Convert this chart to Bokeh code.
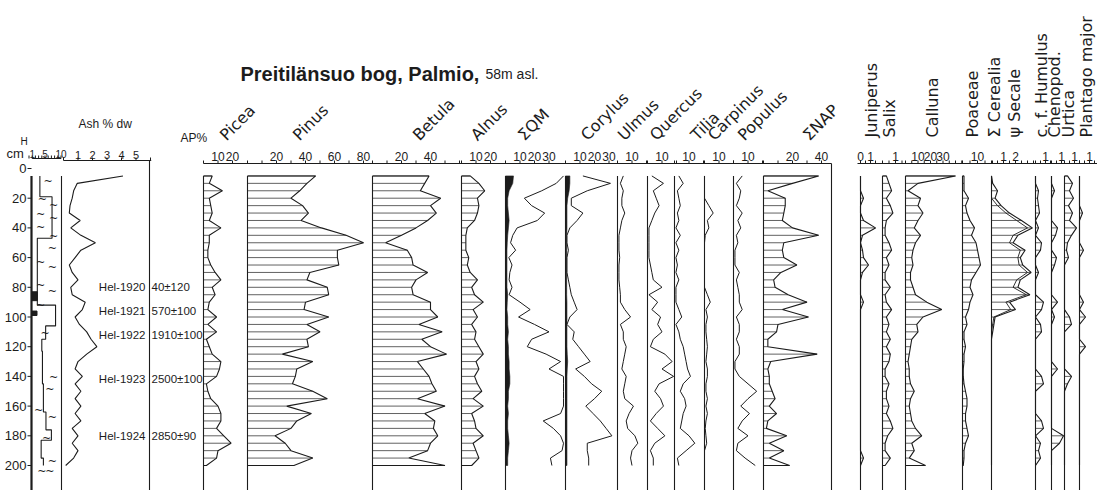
import math
from bokeh.plotting import figure
from bokeh.models import Range1d
from bokeh.core.properties import value
from bokeh.embed import file_html
from bokeh.resources import INLINE

# ---------------------------------------------------------------- data
depth_cm = [5, 10, 15, 20, 25, 30, 35, 40, 45, 50,
            55, 60, 65, 70, 75, 80, 85, 90, 95, 100,
            105, 110, 115, 120, 125, 130, 135, 140, 145, 150,
            155, 160, 165, 170, 175, 180, 185, 190, 195, 200]

ash_pct = [4.1, 0.95, 0.7, 0.6, 0.45, 0.4, 1.15, 0.5, 1.2, 2.2,
           1.2, 0.8, 0.4, 0.6, 1.0, 0.5, 0.6, 1.5, 1.3, 0.8,
           1.1, 1.6, 1.9, 2.3, 1.6, 1.0, 0.8, 1.3, 0.8, 1.2,
           0.8, 1.2, 0.8, 1.2, 0.6, 1.0, 0.6, 1.0, 0.7, 0.15]

picea = [6, 4, 13, 4, 5, 6, 4, 12, 4, 4, 3, 3, 5, 8, 12, 6, 8, 4, 3, 9,
         3, 9, 2, 4, 6, 12, 11, 9, 2, 3, 5, 10, 12, 12, 9, 14, 19, 10, 9, 2]
pinus = [47, 41, 36, 30, 38, 42, 37, 51, 68, 80, 62, 62, 63, 43, 41, 55, 56, 40, 39, 56,
         41, 50, 41, 42, 24, 45, 34, 33, 31, 45, 55, 27, 44, 34, 30, 19, 26, 30, 45, 32]
betula = [39, 36, 33, 47, 40, 44, 38, 30, 20, 9, 24, 27, 28, 38, 30, 27, 28, 40, 40, 45,
          32, 48, 34, 40, 51, 31, 35, 39, 41, 44, 31, 50, 36, 43, 42, 45, 40, 38, 25, 50]
alnus = [6, 12, 16, 11, 12, 11, 9, 4, 3, 3, 3, 5, 4, 6, 11, 7, 9, 15, 8, 11,
         7, 10, 9, 12, 15, 10, 12, 9, 11, 14, 8, 15, 7, 9, 10, 15, 8, 10, 12, 7]
qm_black = [5.5, 5, 2.5, 1.5, 1.5, 2, 2.5, 2, 1.5, 1.2, 1, 1, 1, 1, 1, 1, 1.5, 1.2, 1, 1.5,
            1.5, 2, 1.5, 2, 2, 2.5, 2.5, 3, 3, 2, 2, 1.5, 2, 1.5, 1.5, 2, 2.5, 2, 1.5, 1.5]
qm_curve = [40, 35, 25, 13, 18, 27, 22, 8, 5, 3.5, 7, 2.3, 4.5, 3, 2.5, 4.5, 2.5, 10, 17, 9,
            20, 30, 18, 15, 28, 38, 30, 40, 40, 40, 40, 40, 38, 26, 33, 38, 40, 39, 31, 32]
corylus_black = [3, 3, 2.5, 1.5, 1, 1, 1, 1, 0.8, 0.8, 0.8, 0.8, 0.8, 0.8, 0.8, 0.8, 0.8, 1, 1, 1,
                 1, 1, 1, 1, 1.2, 1.5, 1.2, 1, 1, 1, 1, 1, 1, 1, 1, 1, 1, 1, 1, 1]
corylus = [12, 31, 15, 4, 4, 12, 8, 3, 1, 1, 2, 1, 1, 1, 2, 3, 4, 6, 8, 3,
           1, 6, 5, 9, 13, 17, 7, 13, 18, 25, 20, 14, 19, 24, 28, 32, 15, 15, 16, 16]
ulmus = [4, 2, 4, 3, 3, 5, 3, 2, 1, 1, 1, 1.5, 1, 1, 1, 1.5, 2, 2, 5, 9,
         2, 4, 4, 6, 5, 4, 3, 6, 5, 4, 5, 11, 8, 6, 7, 12, 14, 10, 9, 10]
quercus = [3, 11, 4, 6, 8, 5, 3, 1, 1, 1, 1, 1, 2, 3, 4, 10, 1, 7, 3, 9,
           7, 10, 4, 2, 12, 17, 10, 18, 8, 5, 9, 11, 6, 2, 7, 12, 5, 2, 4, 4]
tilia = [3, 6, 2, 3, 4, 2, 3, 1, 4, 1, 3, 1, 2, 1, 3, 1, 1, 1, 3, 5,
         1, 3, 4, 6, 7, 8, 9, 11, 6, 4, 7, 8, 6, 5, 4, 10, 14, 8, 2, 3]
carpinus = [0, 0, 0, 0, 3, 6, 2, 3, 0.5, 0, 0, 0, 0, 0, 0, 0, 2, 4, 1, 2,
            1, 1, 1.5, 2, 1.5, 1, 2, 2, 1, 1, 2, 1, 2, 1, 0.5, 1, 1.5, 0, 0, 0]
populus = [6, 2, 5, 4, 2, 6, 3, 5, 2, 3, 1, 1, 1, 4, 2, 3, 4, 4, 6, 2,
           4, 4, 2, 4, 4, 1, 1, 4, 10, 16, 10, 5, 11, 6, 3, 10, 3, 2, 8, 15]
nap = [38, 20, 3, 15, 15, 14, 13, 20, 38, 14, 13, 14, 23, 12, 7, 8, 17, 30, 13, 31,
       10, 9, 3, 3, 37, 5, 3, 4, 4, 6, 8, 4, 9, 3, 2, 16, 4, 14, 4, 18]
juniperus = [0, 0, 0, 0.3, 0, 0, 0.3, 1.5, 0.2, 0, 0.2, 0.3, 0.8, 0.2, 0, 0, 0, 0.3, 0, 0,
             0, 0, 0, 0, 0, 0, 0, 0, 0, 0, 0, 0, 0, 0, 0, 0, 0, 0, 0.3, 0]
salix = [0.3, 0.5, 0.7, 0.3, 0.6, 0.8, 0.3, 0.2, 0.2, 0.5, 0.7, 0.3, 0.5, 0.2, 0.2, 0.6, 0.2, 0.3, 0.7, 0.3,
         0.5, 0.3, 0.6, 0.3, 0.6, 0.5, 0.2, 0.2, 0.5, 0.3, 0.3, 0.5, 0.3, 0.6, 0.8, 0.4, 0.2, 0.2, 0.6, 0.2]
calluna = [40, 10, 2, 12, 10, 14, 10, 7, 12, 8, 6, 5, 6, 4, 4, 6, 8, 17, 29, 14,
           9, 10, 5, 4, 3, 2, 3, 3, 4, 7, 4, 3, 4, 5, 8, 13, 5, 7, 3, 16]
poaceae = [1, 1, 1, 4, 2, 3, 5, 8, 6, 9, 10, 11, 12, 9, 6, 5, 7, 5, 4, 2,
           3, 1, 1, 2, 1, 1, 0.5, 0.5, 1, 2, 3, 3, 2, 2, 3, 4, 2, 1, 1, 0.5]
cerealia = [0, 0.1, 0.5, 0.3, 0.8, 1.5, 2.5, 3.4, 2.2, 1.8, 2.8, 2.4, 2.6, 3.3, 2.4, 2.2, 3.2, 1.5, 2.0, 0.3,
            0.2, 0.1, 0, 0, 0, 0, 0, 0, 0, 0, 0, 0, 0, 0, 0, 0, 0, 0, 0, 0]
secale = [0, 0, 0, 0, 0.5, 1.2, 2.1, 3.0, 1.8, 1.5, 2.4, 2.2, 2.3, 3.0, 2.1, 1.8, 2.9, 1.2, 1.6, 0.2,
          0.1, 0, 0, 0, 0, 0, 0, 0, 0, 0, 0, 0, 0, 0, 0, 0, 0, 0, 0, 0]
humulus = [0, 0, 0.3, 0.2, 0.3, 0.4, 0, 0.3, 0, 0.6, 0.5, 0, 0, 0.3, 0, 0, 0, 0.8, 0.6, 0,
           0.5, 0.6, 0, 0, 0, 0, 0, 0.6, 0.8, 0, 0, 0, 0, 0.6, 0.8, 0, 0.5, 0.3, 0.5, 0]
chenopod = [0, 0, 0.3, 0, 0, 0, 0, 0.6, 0.4, 0, 0, 0.5, 0.3, 0, 0, 0, 0, 0.6, 0, 0.3,
            0, 0, 0, 0, 0, 0, 0.6, 0, 0, 0, 0, 0, 0, 0, 0, 1.2, 0.8, 0, 0, 0]
urtica = [0.3, 0.8, 0.5, 0.9, 0.4, 0.8, 0.5, 1.2, 0.7, 0.3, 0.2, 0.4, 0, 0, 0, 0, 0, 0, 0, 0.5,
          0.7, 0, 0, 0, 0, 0, 0, 0.7, 0.3, 0, 0, 0, 0, 0, 0, 0, 0, 0, 0, 0]
plantago = [0, 0, 0, 0, 0, 0.3, 0, 0, 0, 0, 0.4, 0, 0, 0, 0, 0, 0, 0.4, 0, 0.6,
            0, 0, 0, 0.6, 0, 0, 0, 0, 0, 0, 0, 0, 0, 0, 0, 0, 0, 0, 0, 0]

# humification (H, von Post) of the peat column
humif_top_cm = [5, 19, 47, 92, 106, 115, 123, 145, 164, 176, 183, 195]
humif_degree = [3.4, 7.2, 2.6, 8.3, 5.2, 4.0, 4.2, 4.5, 5.3, 7.0, 3.8, 4.5]
humif_base_cm = 200
dark_layer_top = [83, 96]
dark_layer_bottom = [89, 99]
peat_sym_h = [6, 4.2, 7.7, 3.6, 7.7, 3.6, 7.7, 7.3, 3.6, 7.3, 3.6, 7.3, 3.6, 5, 7.7, 6.5, 3, 7.3, 5.5, 7.3, 4, 6.5]
peat_sym_d = [9, 21, 25, 31, 34, 40, 46, 54, 63, 67, 79, 83, 92, 111, 141, 149, 163, 168, 182, 197, 204, 204]

# radiocarbon dates
c14_lab = ["Hel-1920", "Hel-1921", "Hel-1922", "Hel-1923", "Hel-1924"]
c14_age = ["40±120", "570±100", "1910±100", "2500±100", "2850±90"]
c14_depth = [80, 96, 112, 142, 180]

depth_ticks = [0, 20, 40, 60, 80, 100, 120, 140, 160, 180, 200]

# scale labels of each panel
humif_labels = [1, 5, 10]
ash_labels = [1, 2, 3, 4, 5]
picea_labels = [10, 20]
pinus_labels = [20, 40, 60, 80]
betula_labels = [20, 40]
alnus_labels = [10, 20]
qm_labels = [10, 20, 30]
corylus_labels = [10, 20, 30]
ulmus_labels = [10]
quercus_labels = [10]
tilia_labels = [10]
carpinus_labels = [10]
populus_labels = [10]
nap_labels = [20, 40]
juniperus_labels = [0, 1]
salix_labels = [1]
calluna_labels = [10, 20, 30]
poaceae_labels = [10]
cerealia_labels = [1, 2]
humulus_labels = [1]
chenopod_labels = [1]
urtica_labels = [1]
plantago_labels = [1]

# ---------------------------------------------------------------- layout
INK = "#1c1c1c"
HATCH = "#3a3a3a"
SANS = value("DejaVu Sans")
LIB = value("Liberation Sans")

XL, XR, YB, YT = 0, 1097, 490, 0          # visible extent in layout pixels
Y_D0, PX_PER_CM = 168.0, 1.485            # depth 0 position and vertical scale
D_LOW = (YB - Y_D0) / PX_PER_CM

p = figure(width=1097, height=490, x_range=Range1d(XL, XR), y_range=Range1d(YB, YT),
           x_axis_type=None, y_axis_type=None, toolbar_location=None,
           output_backend="svg", min_border=0, outline_line_color=None)
p.extra_y_ranges = {"depth": Range1d(start=D_LOW, end=(YT - Y_D0) / PX_PER_CM)}

# panel origin (layout px) and scale (px per unit), tick step, tick extent
panels = {
    "humif": (28.5, 3.2, 1, 10), "ash": (63, 14.5, 1, 6),
    "picea": (203, 1.45, 10, 20), "pinus": (247, 1.45, 10, 80), "betula": (372, 1.45, 10, 60),
    "alnus": (461, 1.45, 10, 20), "qm": (505, 1.45, 10, 30), "corylus": (565, 1.45, 10, 30),
    "ulmus": (617, 1.45, 10, 20), "quercus": (647, 1.45, 10, 20), "tilia": (674, 1.45, 10, 20),
    "carpinus": (704, 1.45, 10, 20), "populus": (733, 1.45, 10, 20), "nap": (763, 1.45, 10, 40),
    "juniperus": (860, 10, 0.5, 1.5), "salix": (882, 13, 0.5, 1.5), "calluna": (905, 1.25, 5, 45),
    "poaceae": (962, 1.5, 5, 20), "cerealia": (991, 12, 0.5, 3.5), "humulus": (1035, 10, 0.5, 1.5),
    "chenopod": (1051, 10, 0.5, 1), "urtica": (1064, 10, 0.5, 1.5), "plantago": (1079, 10, 0.5, 1.5),
}
p.extra_x_ranges = {k: Range1d(start=(XL - x0) / s, end=(XR - x0) / s)
                    for k, (x0, s, _, _) in panels.items()}

TOP, BOT = depth_cm[0], depth_cm[-1]


def fmt(v):
    return str(int(v)) if float(v).is_integer() else str(v)


def baseline(key, top=TOP):
    p.segment(x0=[0], y0=[top], x1=[0], y1=[D_LOW], x_range_name=key, y_range_name="depth",
              line_color=INK, line_width=1.1)


def hatched(key, vals):
    n = len(vals)
    p.segment(x0=[0] * n, y0=depth_cm, x1=vals, y1=depth_cm, x_range_name=key,
              y_range_name="depth", line_color=HATCH, line_width=0.8)
    p.line(x=[0] + list(vals) + [0], y=[TOP] + depth_cm + [BOT], x_range_name=key,
           y_range_name="depth", line_color=INK, line_width=1.1)
    baseline(key)


def curve(key, vals, width=1.0):
    p.line(x=vals, y=depth_cm, x_range_name=key, y_range_name="depth", line_color=INK, line_width=width)


def black(key, vals):
    p.patch(x=[0] + list(vals) + [0], y=[TOP] + depth_cm + [BOT], x_range_name=key,
            y_range_name="depth", fill_color=INK, line_color=INK, line_width=0.6)


def scale(key, labels, axis_y=163, label_y=156, size="12px"):
    _, _, step, ext = panels[key]
    ticks = [i * step for i in range(int(round(ext / step)) + 1)]
    p.segment(x0=ticks, y0=[axis_y] * len(ticks), x1=ticks, y1=[axis_y - 3] * len(ticks),
              x_range_name=key, line_color=INK, line_width=1)
    p.text(x=labels, y=[label_y] * len(labels), text=[fmt(v) for v in labels], x_range_name=key,
           text_align="center", text_baseline="alphabetic", text_font=LIB, text_font_size=size,
           text_color=INK)


# ---- pollen panels
for key, vals in [("picea", picea), ("pinus", pinus), ("betula", betula), ("alnus", alnus),
                  ("nap", nap), ("juniperus", juniperus), ("salix", salix), ("calluna", calluna),
                  ("poaceae", poaceae), ("cerealia", cerealia), ("humulus", humulus),
                  ("chenopod", chenopod), ("urtica", urtica), ("plantago", plantago)]:
    hatched(key, vals)
curve("cerealia", secale, 0.9)

black("qm", qm_black)
curve("qm", qm_curve)
baseline("qm")
black("corylus", corylus_black)
curve("corylus", corylus)
baseline("corylus")
for key, vals in [("ulmus", ulmus), ("quercus", quercus), ("tilia", tilia),
                  ("carpinus", carpinus), ("populus", populus)]:
    curve(key, vals)
    baseline(key)

# ---- header axes
p.segment(x0=[203, 857], y0=[163, 163], x1=[831, 1097], y1=[163, 163], line_color=INK, line_width=1)
p.segment(x0=[831], y0=[163], x1=[831], y1=[YB], line_color=INK, line_width=1.1)
for key, labs in [("picea", picea_labels), ("pinus", pinus_labels), ("betula", betula_labels),
                  ("alnus", alnus_labels), ("qm", qm_labels), ("corylus", corylus_labels),
                  ("ulmus", ulmus_labels), ("quercus", quercus_labels), ("tilia", tilia_labels),
                  ("carpinus", carpinus_labels), ("populus", populus_labels), ("nap", nap_labels),
                  ("juniperus", juniperus_labels), ("salix", salix_labels),
                  ("calluna", calluna_labels), ("poaceae", poaceae_labels),
                  ("cerealia", cerealia_labels), ("humulus", humulus_labels),
                  ("chenopod", chenopod_labels), ("urtica", urtica_labels),
                  ("plantago", plantago_labels)]:
    scale(key, labs)

# ---- taxon names
diag_names = ["Picea", "Pinus", "Betula", "Alnus", "ΣQM", "Corylus", "Ulmus", "Quercus",
              "Tilia", "Carpinus", "Populus", "ΣNAP"]
diag_x = [222, 295, 415, 473, 520, 583, 620, 652, 693, 710, 740, 805]
p.text(x=diag_x, y=[137] * len(diag_x), text=diag_names, angle=math.pi / 4,
       text_align="left", text_baseline="alphabetic", text_font=SANS, text_font_size="16px",
       text_color=INK)
vert_names = ["Juniperus", "Salix", "Calluna", "Poaceae", "Σ Cerealia", "ψ Secale",
              "c. f. Humulus", "Chenopod.", "Urtica", "Plantago major"]
vert_x = [871, 889, 932, 972, 994, 1014, 1041, 1054, 1068, 1086]
p.text(x=vert_x, y=[137] * len(vert_x), text=vert_names, angle=math.pi / 2,
       text_align="left", text_baseline="middle", text_font=SANS, text_font_size="16px",
       text_color=INK)

p.text(x=[240], y=[73], text=["Preitilänsuo bog, Palmio,"], text_font=LIB, text_font_size="20px",
       text_font_style="bold", text_color=INK, text_baseline="alphabetic")
p.text(x=[485], y=[73], text=["58m asl."], text_font=LIB, text_font_size="14px",
       text_color=INK, text_baseline="alphabetic")
p.text(x=[180], y=[137], text=["AP%"], text_font=LIB, text_font_size="12px",
       text_color=INK, text_baseline="alphabetic")

# ---- peat column (humification) and depth scale
hx, hy = [], []
for i, (t, h) in enumerate(zip(humif_top_cm, humif_degree)):
    b = humif_top_cm[i + 1] if i + 1 < len(humif_top_cm) else humif_base_cm
    hx += [h, h]
    hy += [t, b]
p.line(x=hx, y=hy, x_range_name="humif", y_range_name="depth", line_color=INK, line_width=1.1)
p.quad(left=[0.8, 0.8], right=[2.6, 2.5], top=dark_layer_top, bottom=dark_layer_bottom,
       x_range_name="humif", y_range_name="depth", fill_color=INK, line_color=INK)
p.text(x=peat_sym_h, y=peat_sym_d, text=["~"] * len(peat_sym_h), x_range_name="humif",
       y_range_name="depth", text_align="center", text_baseline="middle", text_font=SANS,
       text_font_size="11px", text_color=INK)
p.segment(x0=[31, 61], y0=[TOP, TOP], x1=[31, 61], y1=[D_LOW, D_LOW], y_range_name="depth",
          line_color=INK, line_width=[2.2, 1.1])
p.segment(x0=[27] * len(depth_ticks), y0=depth_ticks, x1=[31] * len(depth_ticks), y1=depth_ticks,
          y_range_name="depth", line_color=INK, line_width=1)
p.text(x=[26] * len(depth_ticks), y=depth_ticks, text=[str(d) for d in depth_ticks],
       y_range_name="depth", text_align="right", text_baseline="middle", text_font=LIB,
       text_font_size="13px", text_color=INK)
p.segment(x0=[1], y0=[158], x1=[10], y1=[158], x_range_name="humif", line_color=INK, line_width=1)
scale("humif", humif_labels, axis_y=158, label_y=153, size="10px")
p.text(x=[20], y=[146], text=["H"], text_font=LIB, text_font_size="10px", text_color=INK)
p.text(x=[6], y=[160], text=["cm"], text_font=LIB, text_font_size="13px", text_color=INK)

# ---- ash curve
curve("ash", ash_pct, 1.1)
p.segment(x0=[0], y0=[160], x1=[6.05], y1=[160], x_range_name="ash", line_color=INK, line_width=1)
scale("ash", ash_labels, axis_y=160, label_y=154, size="11px")
p.segment(x0=[149], y0=[160], x1=[149], y1=[YB], line_color=INK, line_width=1.1)
p.text(x=[78], y=[130], text=["Ash % dw"], text_font=LIB, text_font_size="12px", text_color=INK)

# ---- radiocarbon dates
p.text(x=[145] * len(c14_lab), y=c14_depth, text=c14_lab, y_range_name="depth",
       text_align="right", text_baseline="middle", text_font=LIB, text_font_size="11.5px",
       text_color=INK)
p.text(x=[151] * len(c14_age), y=c14_depth, text=c14_age, y_range_name="depth",
       text_align="left", text_baseline="middle", text_font=LIB, text_font_size="11.5px",
       text_color=INK)

open("out.html", "w").write(file_html(p, INLINE))
